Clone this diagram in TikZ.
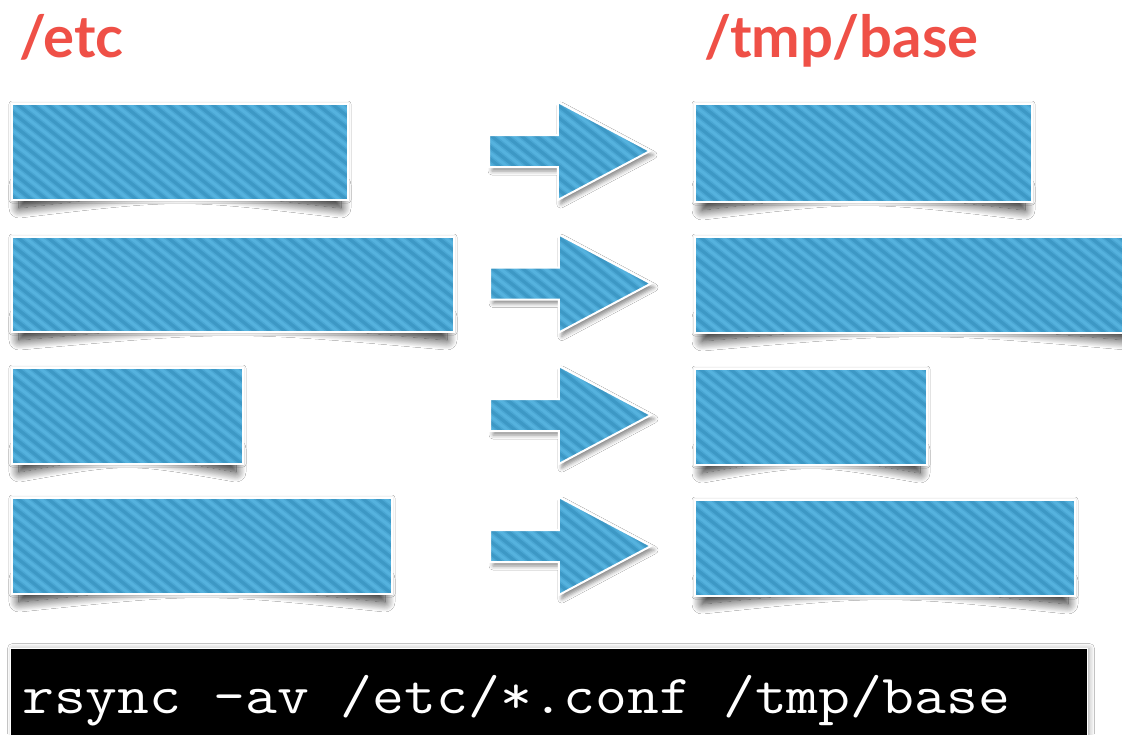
\documentclass[tikz,border=0pt]{standalone}
\usepackage{fontspec}
\newfontfamily\titlefont{Lato}
\usetikzlibrary{shapes.arrows,shadows.blur,calc}
\pgfdeclarelayer{background}
\pgfsetlayers{background,main}
\definecolor{boxblue}{HTML}{3D98C5}
\definecolor{stripeblue}{HTML}{55B2DE}
\definecolor{titlered}{HTML}{EF5047}
\tikzset{
  stripes/.style={path picture={
    \foreach \k in {-14,...,38}{
      \draw[stripeblue!55!boxblue, line width=6pt] ([xshift=\k*15pt, yshift=10pt]path picture bounding box.north west) -- ++(170pt,-136pt);
      \draw[stripeblue, line width=3pt] ([xshift=\k*15pt, yshift=10pt]path picture bounding box.north west) -- ++(170pt,-136pt);
    }}},
  bbox/.style={rectangle, draw=white, line width=2pt, fill=boxblue, inner sep=0pt,
    anchor=north west, stripes,
    blur shadow={shadow xshift=0pt, shadow yshift=0pt, shadow blur radius=3pt, shadow opacity=22}},
  arr/.style={single arrow, draw=white, line width=2pt, fill=boxblue, inner xsep=0pt,
    inner ysep=15pt, minimum height=161pt, single arrow head extend=33pt,
    single arrow tip angle=56, anchor=tail, stripes,
    blur shadow={shadow xshift=3pt, shadow yshift=-4pt, shadow blur radius=4pt, shadow opacity=45}},
  curl/.style={blur shadow={shadow xshift=0pt, shadow yshift=0pt, shadow blur radius=10pt,
    shadow opacity=85, shadow blur steps=16}},
  title/.style={font={\titlefont\bfseries\fontsize{58pt}{60pt}\selectfont}, text=titlered, inner sep=0pt, anchor=base west},
  cmdtext/.style={font={\ttfamily\fontsize{55pt}{56pt}\selectfont}, text=white, inner sep=0pt, anchor=base west},
  bar/.style={rectangle, fill=black, draw=white, line width=1pt, inner sep=0pt, anchor=north west,
    blur shadow={shadow xshift=2pt, shadow yshift=0pt, shadow blur radius=5pt, shadow opacity=35}}
}
\newcommand\mkbox[5]{\node[bbox, minimum width={#4-#2-2}, minimum height={#5-#3-2}] (#1) at ({#2+1},{#3+1}) {};}
\begin{document}
\begin{tikzpicture}[x=1pt,y=-1pt]
\useasboundingbox (0,0) rectangle (1122,734);
% titles
\node[title] (etc) at (19,57) {/etc};
\node[title] (tmp) at (704,57) {/tmp/base};
% source boxes
\mkbox{L1}{10}{102}{348}{200}
\mkbox{L2}{10}{235}{454}{332}
\mkbox{L3}{10}{366}{243}{464}
\mkbox{L4}{10}{496}{392}{594}
% target boxes
\mkbox{R1}{693}{102}{1032}{202}
\mkbox{R2}{693}{235}{1145}{333}
\mkbox{R3}{693}{367}{927}{465}
\mkbox{R4}{693}{498}{1075}{596}
% arrows
\node[arr] (A1) at (488,151) {};
\node[arr] (A2) at (489,283.5) {};
\node[arr] (A3) at (489,415) {};
\node[arr] (A4) at (489,546) {};
% command bar
\node[bar, minimum width=1077pt, minimum height=100pt] (bar) at (10,648) {};
\node[cmdtext] (cmd) at (22,713) {\scalebox{1.125}[1]{rsync -av /etc/*.conf /tmp/base}};
% shadows
\begin{pgfonlayer}{background}
\fill[white] (0,0) rectangle (1122,734);
\foreach \n in {L1,L2,L3,L4,R1,R2,R3,R4}{
  \path[curl] ([xshift=8pt,yshift=16pt]\n.south west) -- ([xshift=-8pt,yshift=16pt]\n.south east)
    -- ([xshift=-8pt,yshift=-7pt]\n.south east) .. controls ($(\n.south)+(0pt,12pt)$) .. ([xshift=8pt,yshift=-7pt]\n.south west) -- cycle;
}
\end{pgfonlayer}
\end{tikzpicture}
\end{document}
